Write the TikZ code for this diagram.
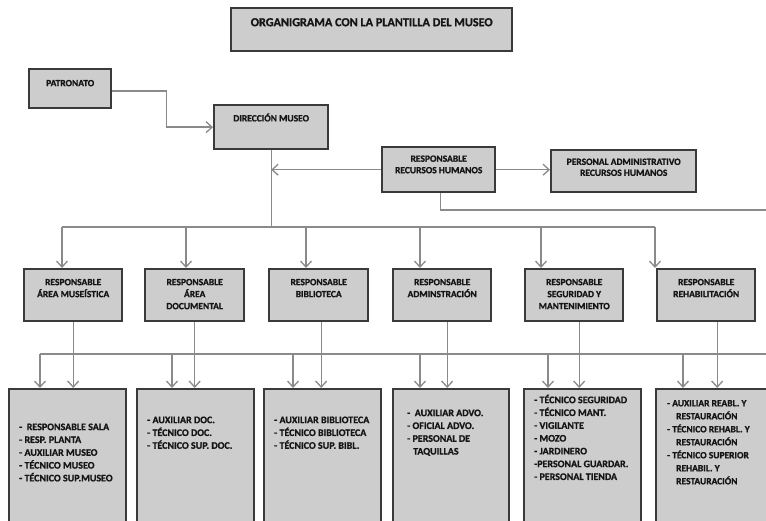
\documentclass[tikz,border=0pt]{standalone}
\usepackage{fontspec}
\setmainfont{Carlito}[BoldFeatures={FakeBold=1}]
\usepackage{tikz}
\usetikzlibrary{arrows.meta}
\usetikzlibrary{positioning}
\definecolor{borde}{HTML}{3A3A3A}
\definecolor{fondo}{HTML}{CDCDCD}
\definecolor{conector}{HTML}{8A8A8A}
\definecolor{letra}{HTML}{151515}
\newcommand{\fuente}{\fontsize{9.5}{12}\selectfont\bfseries}
\newcommand{\fuentetitulo}{\fontsize{12.2}{15}\selectfont\bfseries}
\newcommand{\fuentelista}{\fontsize{10}{12.8}\selectfont\bfseries}

\begin{document}
\begin{tikzpicture}
          [x=1pt, y=-1pt,
           caja/.style={draw=borde, fill=fondo, line width=2.4pt, anchor=north west, inner sep=0pt},
           texto/.style={text=letra, align=center, inner sep=0pt, font=\fuente},
           lista/.style={text=letra, align=left, inner sep=0pt, font=\fuentelista},
           linea/.style={draw=conector, line width=1.4pt},
           flecha/.style={linea, -{Straight Barb[length=6pt, width=11pt, line width=1.3pt]}}]
          \fill[white] (0,0) rectangle (766,521);
          \clip (0,0) rectangle (766,521);

          % cabecera
          \node[caja, minimum width=281, minimum height=43] (titulo) at (230,7) {};
          \node[texto, font=\fuentetitulo, below=8.5pt of titulo.north] (titulo-t) {\strut ORGANIGRAMA CON LA PLANTILLA DEL MUSEO};
          \node[caja, minimum width=82, minimum height=39] (patronato) at (28,68) {};
          \node[texto, below=9.6pt of patronato.north] (patronato-t) {\strut PATRONATO};
          \node[caja, minimum width=114, minimum height=44] (direccion) at (213,104) {};
          \node[texto, below=8.8pt of direccion.north] (direccion-t) {\strut DIRECCIÓN MUSEO};
          \node[caja, minimum width=113, minimum height=45] (rrhh) at (381,146) {};
          \node[texto, font=\fontsize{9.5}{11.5}\selectfont\bfseries, below=7.5pt of rrhh.north] (rrhh-t) {\strut RESPONSABLE\\RECURSOS HUMANOS};
          \node[caja, minimum width=145, minimum height=42] (admrrhh) at (550,149) {};
          \node[texto, font=\fontsize{9.5}{11}\selectfont\bfseries, below=8pt of admrrhh.north] (admrrhh-t) {\strut PERSONAL ADMINISTRATIVO\\RECURSOS HUMANOS};

          % responsables
          \node[caja, minimum width=98, minimum height=52] (museo) at (23,268) {};
          \node[texto, below=8.6pt of museo.north] (museo-t) {\strut RESPONSABLE\\ÁREA MUSEÍSTICA};
          \node[caja, minimum width=99, minimum height=52] (docu) at (144,268) {};
          \node[texto, below=8.6pt of docu.north] (docu-t) {\strut RESPONSABLE\\ÁREA\\DOCUMENTAL};
          \node[caja, minimum width=99, minimum height=52] (biblio) at (268,268) {};
          \node[texto, below=8.6pt of biblio.north] (biblio-t) {\strut RESPONSABLE\\BIBLIOTECA};
          \node[caja, minimum width=98, minimum height=52] (admin) at (392,268) {};
          \node[texto, below=8.6pt of admin.north] (admin-t) {\strut RESPONSABLE\\ADMINSTRACIÓN};
          \node[caja, minimum width=98, minimum height=52] (segur) at (524,268) {};
          \node[texto, below=8.6pt of segur.north] (segur-t) {\strut RESPONSABLE\\SEGURIDAD Y\\MANTENIMIENTO};
          \node[caja, minimum width=98, minimum height=52] (rehab) at (656,268) {};
          \node[texto, below=8.6pt of rehab.north] (rehab-t) {\strut RESPONSABLE\\REHABILITACIÓN};

          % plantilla
          \node[caja, minimum width=117, minimum height=160] (pmuseo) at (8,388) {};
          \node[lista, below right=33pt and 11pt of pmuseo.north west] (pmuseo-t)
            {\strut -\ \ RESPONSABLE SALA\\- RESP. PLANTA\\- AUXILIAR MUSEO\\- TÉCNICO MUSEO\\- TÉCNICO SUP.MUSEO};
          \node[caja, minimum width=117, minimum height=160] (pdocu) at (136,388) {};
          \node[lista, below right=26pt and 11pt of pdocu.north west] (pdocu-t)
            {\strut -\ AUXILIAR DOC.\\- TÉCNICO DOC.\\- TÉCNICO SUP. DOC.};
          \node[caja, minimum width=117, minimum height=160] (pbiblio) at (263,388) {};
          \node[lista, below right=26pt and 11pt of pbiblio.north west] (pbiblio-t)
            {\strut -\ AUXILIAR BIBLIOTECA\\- TÉCNICO BIBLIOTECA\\- TÉCNICO SUP. BIBL.};
          \node[caja, minimum width=116, minimum height=160] (padmin) at (392,388) {};
          \node[lista, below right=19pt and 15pt of padmin.north west] (padmin-t)
            {\strut -\ \ AUXILIAR ADVO.\\- OFICIAL ADVO.\\- PERSONAL DE\\\hspace*{6pt}TAQUILLAS};
          \node[caja, minimum width=117, minimum height=160] (psegur) at (523,388) {};
          \node[lista, below right=6pt and 11pt of psegur.north west] (psegur-t)
            {\strut - TÉCNICO SEGURIDAD\\- TÉCNICO MANT.\\- VIGILANTE\\- MOZO\\- JARDINERO\\-PERSONAL GUARDAR.\\- PERSONAL TIENDA};
          \node[caja, minimum width=140, minimum height=160] (prehab) at (655,388) {};
          \node[lista, font=\fontsize{9.5}{13}\selectfont\bfseries, below right=9pt and 12pt of prehab.north west] (prehab-t)
            {\strut - AUXILIAR REABL. Y\\\hspace*{9pt}RESTAURACIÓN\\- TÉCNICO REHABL. Y\\\hspace*{9pt}RESTAURACIÓN\\- TÉCNICO SUPERIOR\\\hspace*{9pt}REHABIL. Y\\\hspace*{9pt}RESTAURACIÓN};

          % puntos de las barras
          \coordinate (a1) at (62,227);
          \coordinate (a2) at (186,227);
          \coordinate (a3) at (306,227);
          \coordinate (a4) at (420,227);
          \coordinate (a5) at (541,227);
          \coordinate (a6) at (655,227);
          \coordinate (rrhh-fin) at (770,210);
          \coordinate (b1) at (40,354);
          \coordinate (b2) at (172,354);
          \coordinate (b3) at (293,354);
          \coordinate (b4) at (420,354);
          \coordinate (b5) at (548,354);
          \coordinate (b6) at (683,354);
          \coordinate (b-fin) at (770,354);

          \draw[flecha] ([yshift=-2.5pt]patronato.east) -- ++(54,0) |- (direccion.west);
          \draw[linea] (direccion.south) -- (direccion.south |- a1);
          \draw[flecha] (rrhh.west) -- (rrhh.west -| direccion.south);
          \draw[flecha] (rrhh.east) -- (rrhh.east -| admrrhh.west);
          \draw[linea] ([xshift=2pt]rrhh.south) |- (rrhh-fin);

          \draw[linea] (a1) -- (a6);
          \draw[flecha] (a1) -- (a1 |- museo.north);
          \draw[flecha] (a2) -- (a2 |- docu.north);
          \draw[flecha] (a3) -- (a3 |- biblio.north);
          \draw[flecha] (a4) -- (a4 |- admin.north);
          \draw[flecha] (a5) -- (a5 |- segur.north);
          \draw[flecha] (a6) -- (a6 |- rehab.north);

          \draw[linea] (b1) -- (b-fin);
          \draw[flecha] (museo.south) -- (museo.south |- pmuseo.north);
          \draw[flecha] (docu.south) -- (docu.south |- pdocu.north);
          \draw[flecha] ([xshift=2.5pt]biblio.south) -- ([xshift=2.5pt]biblio.south |- pbiblio.north);
          \draw[flecha] ([xshift=5pt]admin.south) -- ([xshift=5pt]admin.south |- padmin.north);
          \draw[flecha] ([xshift=5pt]segur.south) -- ([xshift=5pt]segur.south |- psegur.north);
          \draw[flecha] ([xshift=11pt]rehab.south) -- ([xshift=11pt]rehab.south |- prehab.north);
          \draw[flecha] (b1) -- (b1 |- pmuseo.north);
          \draw[flecha] (b2) -- (b2 |- pdocu.north);
          \draw[flecha] (b3) -- (b3 |- pbiblio.north);
          \draw[flecha] (b4) -- (b4 |- padmin.north);
          \draw[flecha] (b5) -- (b5 |- psegur.north);
          \draw[flecha] (b6) -- (b6 |- prehab.north);

        \end{tikzpicture}
\end{document}
